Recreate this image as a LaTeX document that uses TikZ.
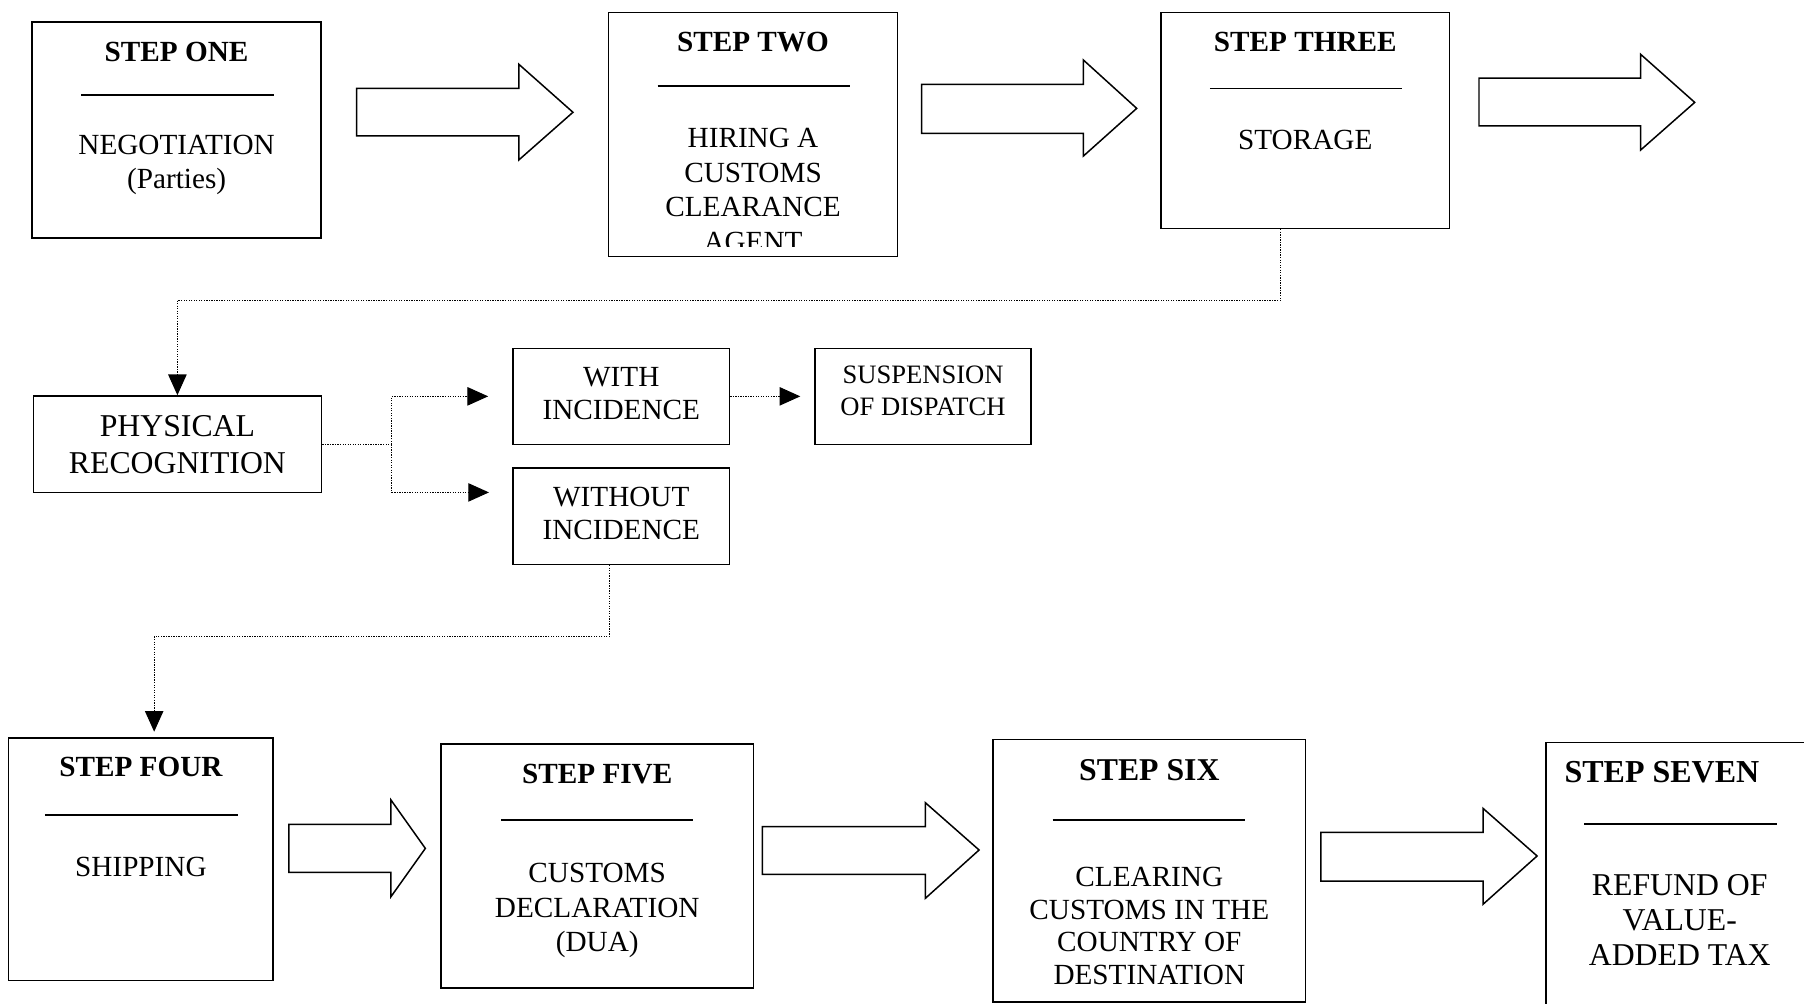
\documentclass[tikz,border=0pt]{standalone}
\usepackage{fontspec}
\setmainfont{Liberation Serif}
\usetikzlibrary{arrows.meta,calc}
\newcommand\FSz[2]{\fontsize{#1}{#2}\selectfont}
\begin{document}
\begin{tikzpicture}[x=1pt,y=-1pt,
  box/.style={draw,line width=1.4pt,rectangle,inner sep=0pt},
  ttl/.style={anchor=base,inner sep=0pt,font=\FSz{25.4}{30}\bfseries},
  bdy/.style={anchor=base,inner sep=0pt,font=\FSz{25.4}{30}},
  rulel/.style={line width=1.3pt},
  blockarrow/.style={draw,line width=1.3pt,line join=miter,fill=white},
  dotc/.style={line width=0.9pt,dash pattern=on 1.1pt off 1.1pt},
  tipa/.style={-{Triangle[length=18pt,width=16pt]}}]
\useasboundingbox (0,0) rectangle (1568,872);
\clip (0,0) rectangle (1568,872);
\fill[white] (0,0) rectangle (1568,872);

% ---- top row ----
\node[box,minimum width=251pt,minimum height=188pt] (s1) at (153.5,113) {};
\node[ttl] (s1t) at (153.5,53.3) {STEP ONE};
\draw[rulel] (70.5,82.6) -- (238,82.6);
\node[bdy] (s1b) at (153.5,134.2) {\begin{tabular}[t]{@{}c@{}}NEGOTIATION\\(Parties)\end{tabular}};

\node[box,minimum width=251pt,minimum height=212.3pt] (s2) at (654.5,116.9) {};
\node[ttl] (s2t) at (654.5,44.4) {STEP TWO};
\draw[rulel] (571.5,74.7) -- (738.6,74.7);
\begin{scope}
\clip (529,10) rectangle (780,214);
\node[bdy] (s2b) at (654.5,128.2) {\begin{tabular}[t]{@{}c@{}}HIRING A\\CUSTOMS\\CLEARANCE\\AGENT\end{tabular}};
\end{scope}

\node[box,minimum width=251pt,minimum height=187.8pt] (s3) at (1134.5,104.6) {};
\node[ttl] (s3t) at (1134.5,44.4) {STEP THREE};
\draw[rulel] (1051.6,76.8) -- (1218.6,76.8);
\node[bdy] (s3b) at (1134.5,129.9) {STORAGE};

\draw[blockarrow] (310,76.8) -- (451,76.8) -- (451,55.9) -- (498,97.6) -- (451,139) -- (451,118.2) -- (310,118.2) -- cycle;
\draw[blockarrow] (801,73.3) -- (941.7,73.3) -- (941.7,52.2) -- (988,94.2) -- (941.7,135.6) -- (941.7,115.9) -- (801,115.9) -- cycle;
\draw[blockarrow] (1285.5,68) -- (1426,68) -- (1426,47.2) -- (1473,89) -- (1426,130.4) -- (1426,109.5) -- (1285.5,109.5) -- cycle;

% ---- middle ----
\node[box,minimum width=250.4pt,minimum height=84pt] (phys) at (154.2,386.2) {};
\node[bdy,font=\FSz{27.6}{32}] (physb) at (154.2,379.8) {\begin{tabular}[t]{@{}c@{}}PHYSICAL\\RECOGNITION\end{tabular}};

\node[box,minimum width=188pt,minimum height=83.4pt] (with) at (540,344.5) {};
\node[bdy,font=\FSz{25.4}{29}] (withb) at (540,335.8) {\begin{tabular}[t]{@{}c@{}}WITH\\INCIDENCE\end{tabular}};

\node[box,minimum width=188pt,minimum height=83.5pt] (without) at (540,448.75) {};
\node[bdy,font=\FSz{25.4}{29}] (withoutb) at (540,440.1) {\begin{tabular}[t]{@{}c@{}}WITHOUT\\INCIDENCE\end{tabular}};

\node[box,minimum width=188pt,minimum height=83.4pt] (susp) at (802.3,344.5) {};
\node[bdy,font=\FSz{23.1}{27.5}] (suspb) at (802.3,333.6) {\begin{tabular}[t]{@{}c@{}}SUSPENSION\\OF DISPATCH\end{tabular}};

% ---- bottom row ----
\node[box,minimum width=230pt,minimum height=210.7pt] (s4) at (122.5,747) {};
\node[ttl] (s4t) at (122.5,674.8) {STEP FOUR};
\draw[rulel] (38.9,708.4) -- (207,708.4);
\node[bdy] (s4b) at (122.5,761.5) {SHIPPING};

\node[box,minimum width=271.8pt,minimum height=212.3pt] (s5) at (519.1,752.85) {};
\node[ttl] (s5t) at (519.1,680.6) {STEP FIVE};
\draw[rulel] (435.5,712.7) -- (602.7,712.7);
\node[bdy] (s5b) at (519.1,767.2) {\begin{tabular}[t]{@{}c@{}}CUSTOMS\\DECLARATION\\(DUA)\end{tabular}};

\node[box,minimum width=271.5pt,minimum height=228.1pt] (s6) at (998.95,756.65) {};
\node[ttl,font=\FSz{27.6}{32}\bfseries] (s6t) at (998.95,678.4) {STEP SIX};
\draw[rulel] (915,712.7) -- (1082.5,712.7);
\node[bdy,font=\FSz{25.4}{28.5}] (s6b) at (998.95,770.3) {\begin{tabular}[t]{@{}c@{}}CLEARING\\CUSTOMS IN THE\\COUNTRY OF\\DESTINATION\end{tabular}};

\node[box,minimum width=260pt,minimum height=260pt] (s7) at (1473.7,775.5) {};
\node[ttl,font=\FSz{27.8}{32}\bfseries] (s7t) at (1444.5,679.9) {STEP SEVEN};
\draw[rulel] (1376.8,716.2) -- (1544.6,716.2);
\node[bdy,font=\FSz{27.6}{30.4}] (s7b) at (1460,778.3) {\begin{tabular}[t]{@{}c@{}}REFUND OF\\VALUE-\\ADDED TAX\end{tabular}};

\draw[blockarrow] (251,716.5) -- (339.8,716.5) -- (339.8,695.3) -- (369.7,737.4) -- (339.8,779.4) -- (339.8,758.2) -- (251,758.2) -- cycle;
\draw[blockarrow] (662.6,718.5) -- (804.3,718.5) -- (804.3,697.7) -- (851,738.8) -- (804.3,780.8) -- (804.3,760) -- (662.6,760) -- cycle;
\draw[blockarrow] (1148,723.5) -- (1289,723.5) -- (1289,702.6) -- (1336,744) -- (1289,786) -- (1289,765.8) -- (1148,765.8) -- cycle;

% ---- dotted connectors ----
\coordinate (c1) at (1113,261);
\draw[dotc,tipa] (s3.south -| c1) -- (c1) -| (phys.north);

\coordinate (br) at (340.5,386.2);
\coordinate (woin) at (425,428);
\draw[dotc] (phys.east) -- (br);
\draw[dotc,tipa] (br) |- ([xshift=-21pt]with.west);
\draw[dotc,tipa] (br) |- (woin);
\draw[dotc,tipa] (with.east) -- ([xshift=-12pt]susp.west);

\coordinate (c2) at (529.6,553.4);
\coordinate (s4in) at (134,636);
\draw[dotc,tipa] (without.south -| c2) -- (c2) -| (s4in);
\end{tikzpicture}
\end{document}
